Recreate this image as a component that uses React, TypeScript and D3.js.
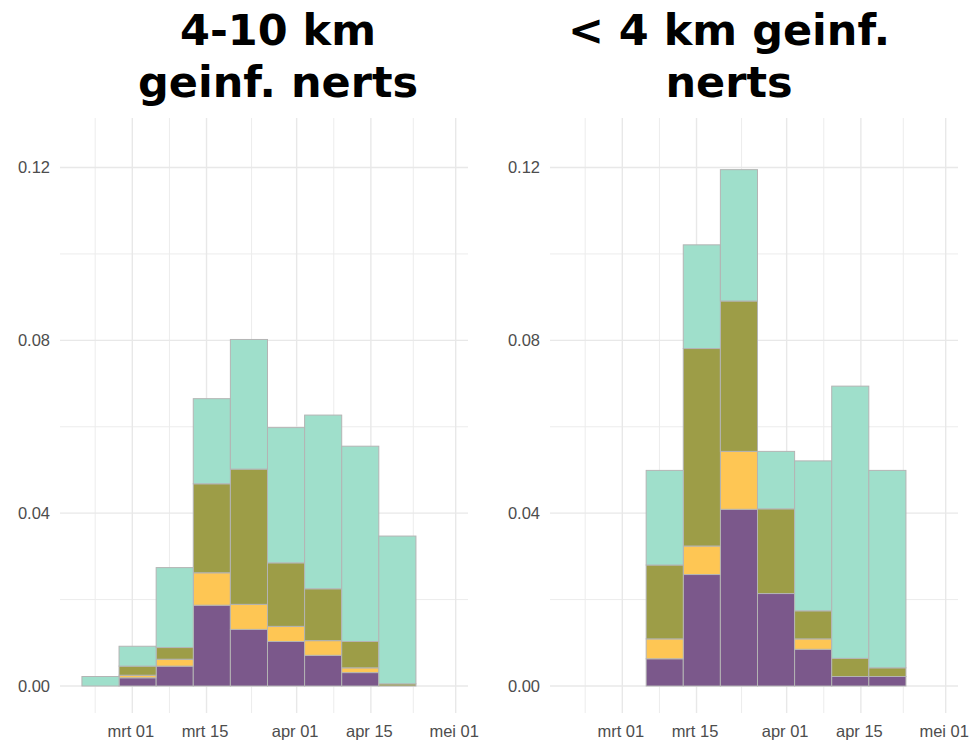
import * as d3 from 'd3';
import { useEffect, useRef } from 'react';

// weekly bins (start dates), shared by both panels
const binStarts = [
  '2021-02-19T12:00',
  '2021-02-26T12:00',
  '2021-03-05T12:00',
  '2021-03-12T12:00',
  '2021-03-19T12:00',
  '2021-03-26T12:00',
  '2021-04-02T12:00',
  '2021-04-09T12:00',
  '2021-04-16T12:00',
];

const keys = ['s1', 's2', 's3', 's4'];
const colors = ['#7b588b', '#fec654', '#9d9d47', '#9fdfcb'];

// segment heights per bin, bottom to top
const farS1 = [0, 0.0019, 0.0046, 0.0187, 0.0131, 0.0103, 0.0071, 0.0031, 0];
const farS2 = [0, 0.0006, 0.0016, 0.0075, 0.0058, 0.0035, 0.0034, 0.0011, 0];
const farS3 = [0, 0.0021, 0.0027, 0.0206, 0.0313, 0.0147, 0.012, 0.0061, 0.0005];
const farS4 = [0.0022, 0.0046, 0.0185, 0.0197, 0.03, 0.0313, 0.0402, 0.0452, 0.0342];

const nearS1 = [0, 0, 0.0063, 0.0258, 0.0409, 0.0214, 0.0085, 0.0022, 0.0022];
const nearS2 = [0, 0, 0.0046, 0.0066, 0.0134, 0, 0.0024, 0, 0];
const nearS3 = [0, 0, 0.0171, 0.0457, 0.0348, 0.0196, 0.0065, 0.0042, 0.002];
const nearS4 = [0, 0, 0.0219, 0.024, 0.0304, 0.0133, 0.0347, 0.063, 0.0457];

const majorDates = ['2021-03-01', '2021-03-15', '2021-04-01', '2021-04-15', '2021-05-01'];
const majorLabels = ['mrt 01', 'mrt 15', 'apr 01', 'apr 15', 'mei 01'];
const minorDates = ['2021-02-22', '2021-03-08', '2021-03-23T12:00', '2021-04-08', '2021-04-23'];

const yMajor = [0, 0.04, 0.08, 0.12];
const yMinor = [0.02, 0.06, 0.1];

const parse = (s: string) => (s.includes('T') ? d3.timeParse('%Y-%m-%dT%H:%M')(s) : d3.timeParse('%Y-%m-%d')(s)) as Date;

const w = 970;
const h = 742;

export default function App() {
  const svgRef = useRef<SVGSVGElement>(null);

  useEffect(() => {
    if (svgRef.current == null) {
      return;
    }
    const svg = d3.select(svgRef.current);
    svg.selectAll('*').remove();

    const panels = [
      { dx: 0, title: ['4-10 km', 'geinf. nerts'], cx: 278, series: [farS1, farS2, farS3, farS4] },
      { dx: 490, title: ['< 4 km geinf.', 'nerts'], cx: 729, series: [nearS1, nearS2, nearS3, nearS4] },
    ];

    const panelLeft = 60;
    const panelRight = 468;
    const panelTop = 118;
    const panelBottom = 713;

    const yScale = d3.scaleLinear().domain([0, 0.12]).range([686, 167.5]);

    for (const p of panels) {
      const g = svg.append('g').attr('transform', `translate(${p.dx}, 0)`);

      const xScale = d3
        .scaleTime()
        .domain([parse('2021-03-01'), parse('2021-05-01')])
        .range([132.3, 455.7]);

      // grid
      for (const v of yMinor) {
        g.append('line')
          .attr('x1', panelLeft)
          .attr('x2', panelRight)
          .attr('y1', yScale(v))
          .attr('y2', yScale(v))
          .attr('stroke', '#ececec')
          .attr('stroke-width', 1);
      }
      for (const d of minorDates) {
        const x = xScale(parse(d));
        g.append('line')
          .attr('x1', x)
          .attr('x2', x)
          .attr('y1', panelTop)
          .attr('y2', panelBottom)
          .attr('stroke', '#ececec')
          .attr('stroke-width', 1);
      }
      for (const v of yMajor) {
        g.append('line')
          .attr('x1', panelLeft)
          .attr('x2', panelRight)
          .attr('y1', yScale(v))
          .attr('y2', yScale(v))
          .attr('stroke', '#e8e8e8')
          .attr('stroke-width', 1.4);
      }
      for (const d of majorDates) {
        const x = xScale(parse(d));
        g.append('line')
          .attr('x1', x)
          .attr('x2', x)
          .attr('y1', panelTop)
          .attr('y2', panelBottom)
          .attr('stroke', '#e8e8e8')
          .attr('stroke-width', 1.4);
      }

      // stacked bars
      const rows = binStarts.map((s, i) => {
        const row: Record<string, number> = {};
        keys.forEach((k, j) => (row[k] = p.series[j][i]));
        return row;
      });
      const stacked = d3.stack<Record<string, number>>().keys(keys)(rows);

      stacked.forEach((layer, j) => {
        layer.forEach((seg, i) => {
          if (seg[1] - seg[0] <= 0) return;
          const start = parse(binStarts[i]);
          const end = d3.timeDay.offset(start, 7);
          g.append('rect')
            .attr('x', xScale(start))
            .attr('width', xScale(end) - xScale(start))
            .attr('y', yScale(seg[1]))
            .attr('height', yScale(seg[0]) - yScale(seg[1]))
            .attr('fill', colors[j])
            .attr('stroke', '#b4b4b4')
            .attr('stroke-width', 1);
        });
      });

      // axis labels
      for (const v of yMajor) {
        g.append('text')
          .attr('x', 50)
          .attr('y', yScale(v))
          .attr('dy', '0.36em')
          .attr('text-anchor', 'end')
          .style('font', '16.5px "Liberation Sans", Arial, sans-serif')
          .attr('fill', '#4d4d4d')
          .text(d3.format('.2f')(v));
      }
      majorDates.forEach((d, i) => {
        g.append('text')
          .attr('x', xScale(parse(d)) - 1.5)
          .attr('y', 737)
          .attr('text-anchor', 'middle')
          .style('font', '16.5px "Liberation Sans", Arial, sans-serif')
          .attr('fill', '#4d4d4d')
          .text(majorLabels[i]);
      });

      // title
      p.title.forEach((line, i) => {
        svg
          .append('text')
          .attr('x', p.cx)
          .attr('y', 45 + i * 52)
          .attr('text-anchor', 'middle')
          .style('font', 'bold 43px "DejaVu Sans", Verdana, sans-serif')
          .attr('fill', '#000')
          .text(line);
      });
    }
  }, []);

  return (
    <svg
      ref={svgRef}
      width={w}
      height={h}
      style={{ position: 'absolute', left: 0, top: 0, background: '#fff' }}
    ></svg>
  );
}
